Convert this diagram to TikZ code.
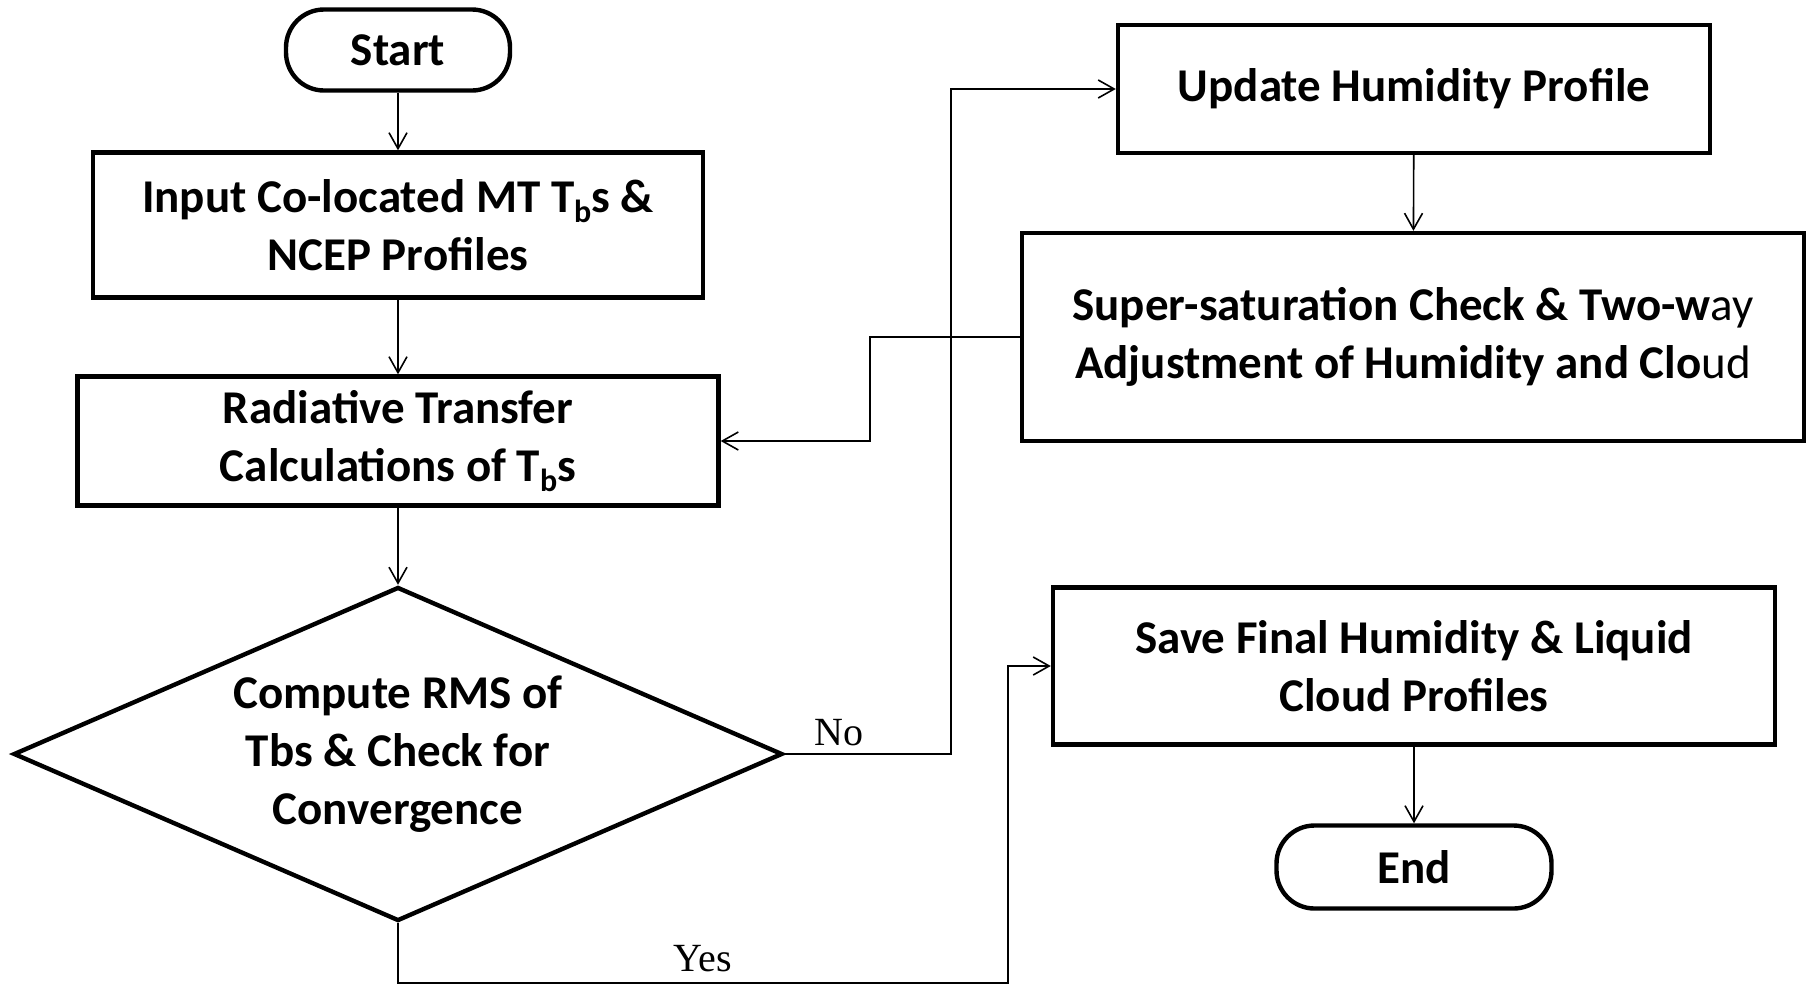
\documentclass[tikz,border=0pt]{standalone}
\usepackage{fontspec}
\setmainfont{Carlito}
\newfontfamily\lblfont{Liberation Serif}
\usetikzlibrary{shapes.geometric,arrows.meta}

\newcommand{\tbsub}{T\raisebox{-0.45ex}{\fontsize{16}{16}\selectfont b}}

\tikzset{
  box/.style={draw,line width=2.2pt,align=center,font=\bfseries\fontsize{23.5}{29}\selectfont},
  term/.style={box,rounded corners=19pt},
  decide/.style={box,diamond,inner sep=0pt},
  arr/.style={line width=0.8pt,-{Straight Barb[length=8pt,width=9pt]}},
  lbl/.style={font=\lblfont\fontsize{20}{23}\selectfont}
}

\begin{document}
\begin{tikzpicture}[x=0.5pt,y=-0.5pt]
  \useasboundingbox (0,0) rectangle (1807,986);
  % left column
  \node[term,minimum width=112pt,minimum height=40.5pt] (start) at (398,50) {Start};
  \node[box,minimum width=305pt,minimum height=72.5pt] (input) at (398,225) {Input Co-located MT \tbsub s \&\\NCEP Profiles};
  \node[box,minimum width=320.5pt,minimum height=64.5pt] (rad) at (398,441) {Radiative Transfer\\Calculations of \tbsub s};
  \node[decide,minimum width=384.5pt,minimum height=167pt,aspect=2.3] (dec) at (398,754) {Compute RMS of\\Tbs \& Check for\\Convergence};
  % right column
  \node[box,minimum width=296pt,minimum height=64pt] (upd) at (1414,89) {Update Humidity Profile};
  \node[box,minimum width=391pt,minimum height=104pt] (sup) at (1413,337) {Super-saturation Check \& Two-w{\mdseries ay}\\Adjustment of Humidity and Clo{\mdseries ud}};
  \node[box,minimum width=361pt,minimum height=78.5pt] (save) at (1414,666) {Save Final Humidity \& Liquid\\Cloud Profiles};
  \node[term,minimum width=137.5pt,minimum height=41.5pt] (endn) at (1414,867) {End};
  % bends
  \coordinate (nobend) at (951,754);
  \coordinate (backbend) at (870,337);
  \coordinate (yesdown) at (398,983);
  \coordinate (yesbend) at (1008,983);
  % connectors
  \draw[arr] (start) -- (input);
  \draw[arr] (input) -- (rad);
  \draw[arr] (rad) -- (dec);
  \draw[arr] (dec.east) -- (nobend) |- (upd.west);
  \draw[arr] (upd) -- (sup);
  \draw[arr] (sup.west) -- (backbend) |- (rad.east);
  \draw[arr] (dec.south) -- (yesdown) -- (yesbend) |- (save.west);
  \draw[arr] (save) -- (endn);
  \node[lbl] (nolbl) at (839,733) {No};
  \node[lbl] (yeslbl) at (703,959) {Yes};
\end{tikzpicture}
\end{document}
